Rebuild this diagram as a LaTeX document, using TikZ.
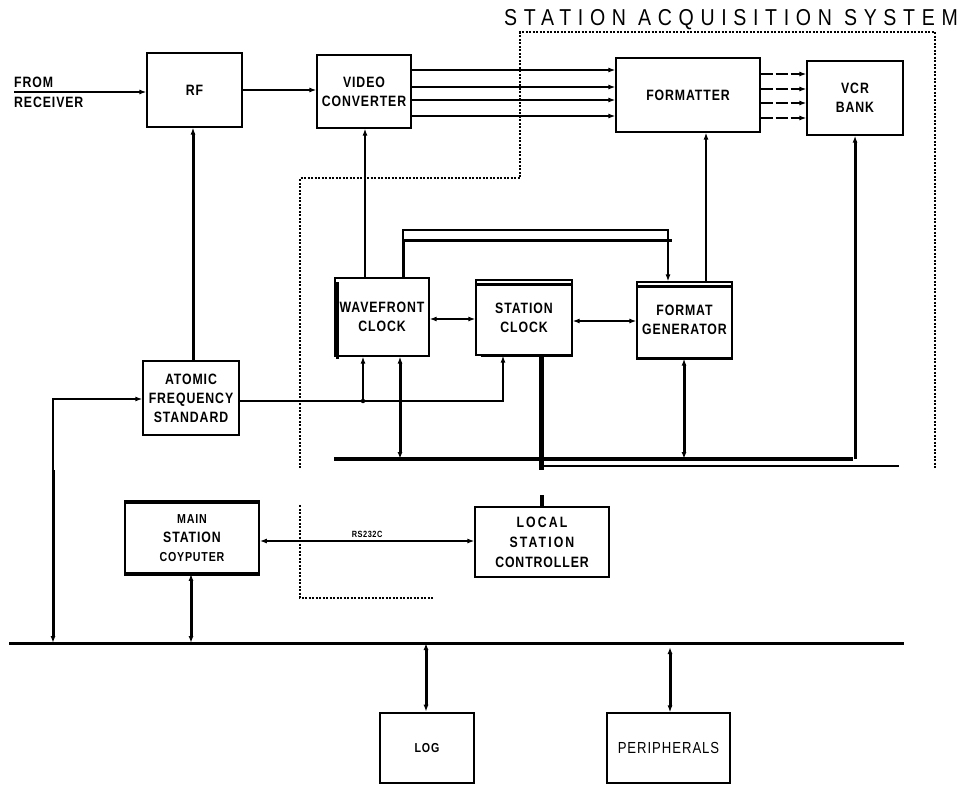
\documentclass[tikz,border=0pt]{standalone}
\usepackage{fontspec}
\setmainfont{Liberation Sans}
\newfontfamily\lbl[FakeStretch=0.82,LetterSpace=6]{Liberation Sans}
\newfontfamily\lblwide[FakeStretch=0.82,LetterSpace=14]{Liberation Sans}
\newfontfamily\ttl[FakeStretch=0.85,LetterSpace=29]{Liberation Sans}
\usetikzlibrary{arrows.meta}
\begin{document}
\begin{tikzpicture}[x=1pt,y=-1pt,
  >={Latex[length=7pt,width=5pt]},
  box/.style={draw,line width=1.3pt,inner sep=0pt,align=center,
    font=\lbl\bfseries\fontsize{15}{19}\selectfont},
  thinln/.style={line width=1.2pt},
  thickln/.style={line width=3pt},
  sasline/.style={line width=1.2pt,dash pattern=on 2pt off 1.5pt},
  lab/.style={inner sep=0pt,font=\lbl\bfseries\fontsize{15}{19}\selectfont}]
\useasboundingbox (0,0) rectangle (968,785);

% title
\node[anchor=west,inner sep=0pt,font=\ttl\fontsize{23}{23}\selectfont] (title) at (504,20) {STATION ACQUISITION SYSTEM};

% boxes
\node[box,minimum width=95pt,minimum height=74pt] (rf) at (194.5,90) {RF};
\node[box,minimum width=94pt,minimum height=73pt] (vc) at (364,91.5) {VIDEO\\CONVERTER};
\node[box,minimum width=144pt,minimum height=74pt] (fmt) at (688,95) {FORMATTER};
\node[box,minimum width=96pt,minimum height=74pt] (vcr) at (855,98) {VCR\\BANK};
\node[box,minimum width=94pt,minimum height=78pt] (wf) at (382,317) {WAVEFRONT\\CLOCK};
\node[box,minimum width=96pt,minimum height=75pt] (sc) at (524,317.5) {STATION\\CLOCK};
\node[box,minimum width=95pt,minimum height=76pt] (fg) at (684.5,320) {FORMAT\\GENERATOR};
\node[box,minimum width=96pt,minimum height=74pt] (afs) at (191,398) {ATOMIC\\FREQUENCY\\STANDARD};
\node[box,line width=1.8pt,minimum width=134pt,minimum height=70pt] (msc) at (192,538)
  {{\fontsize{13}{18}\selectfont MAIN}\\STATION\\{\fontsize{13}{19}\selectfont COYPUTER}};
\node[box,minimum width=134pt,minimum height=70pt,font=\lbl\bfseries\fontsize{15}{20}\selectfont] (lsc) at (542,542)
  {{\lblwide\bfseries LOCAL}\\{\lblwide\bfseries STATION}\\CONTROLLER};
\node[box,line width=2.6pt,minimum width=94pt,minimum height=70pt,font=\lbl\bfseries\fontsize{13}{16}\selectfont] (log) at (427,748) {LOG};
\node[box,minimum width=123pt,minimum height=70pt,font=\lbl\fontsize{16}{18}\selectfont] (per) at (668.5,748) {PERIPHERALS};

% extra box rules
\draw[line width=2.5pt] ([yshift=-5pt]sc.north west) -- ([yshift=-5pt]sc.north east);
\draw[line width=3pt] ([xshift=6pt]sc.south west) -- (sc.south east);
\draw[line width=2.5pt] ([yshift=-5pt]fg.north west) -- ([yshift=-5pt]fg.north east);
\draw[line width=3pt] (fg.south west) -- (fg.south east);
\draw[line width=2.5pt] ([xshift=3pt,yshift=-5pt]wf.north west) -- ([xshift=3pt,yshift=-2pt]wf.south west);
\draw[line width=3.5pt] (msc.north west) -- (msc.north east);
\draw[line width=3.5pt] (msc.south west) -- (msc.south east);

% input
\node[lab,anchor=west] (from) at (14,82) {FROM};
\node[lab,anchor=west] (rcv) at (14,102) {RECEIVER};
\coordinate (inp) at (14,92);
\draw[thinln,->] (inp) -- (rf.west |- inp);

% top row connectors
\draw[thinln,->] (rf.east) -- (vc.west |- rf.east);
\foreach \yy in {70,87,100,116}
  \draw[thinln,->] (vc.east |- 0,\yy) -- (fmt.west |- 0,\yy);
\foreach \yy in {74,89,103,118}
  \draw[thinln,->,dash pattern=on 12pt off 3pt] (fmt.east |- 0,\yy) -- (vcr.west |- 0,\yy);

% vertical connectors
\draw[thickln,->] (afs.north -| 193,0) -- (rf.south -| 193,0);
\draw[thinln,->] (wf.north -| 365,0) -- (vc.south -| 365,0);
\draw[thinln,->] (fg.north -| 706,0) -- (fmt.south -| 706,0);

% station bus
\coordinate (sbL) at (334,459);
\coordinate (sbR) at (853,459);
\coordinate (sb2L) at (541,466);
\coordinate (sb2R) at (899,466);
\draw[line width=3.5pt] (sbL) -- (sbR);
\draw[line width=2pt] (sb2L) -- (sb2R);
\draw[thickln,->] (sbR -| 855,0) -- (vcr.south -| 855,0);

% loop from wavefront clock to format generator
\draw[thinln,->] (wf.north -| 403,0) -- (403,230) -- (668,230) -- (fg.north -| 668,0);
\draw[thickln] (403,240) -- (672,240);
\draw[thickln] (wf.north -| 403,0) -- (403,240);

% clock links
\draw[thinln,<->] (wf.east |- 0,319) -- (sc.west |- 0,319);
\draw[thinln,<->] (sc.east |- 0,321) -- (fg.west |- 0,321);

% frequency distribution
\coordinate (fj) at (363,401);
\draw[line width=1.8pt,->] (afs.east |- fj) -- (503,401) -- (sc.south -| 503,0);
\draw[thinln,->] (fj) -- (wf.south -| fj);
\fill (fj) circle (2.2pt);

% clocks to station bus
\draw[thickln,<->] (sbL -| 400,0) -- (wf.south -| 400,0);
\draw[line width=5pt] (sc.south -| 541,0) -- (541,470);
\draw[line width=4pt] (542,495) -- (lsc.north -| 542,0);
\draw[thickln,<->] (sbL -| 684,0) -- (fg.south -| 684,0);

% main bus
\coordinate (mbL) at (9,643);
\coordinate (mbR) at (904,643);
\draw[line width=3pt] (mbL) -- (mbR);
\coordinate (lk) at (53,399);
\draw[line width=1.8pt,->] (53,470) -- (lk) -- (afs.west |- lk);
\draw[thickln,->] (53,470) -- (mbL -| 53,0);
\draw[thickln,<->] (msc.south -| 191,0) -- (mbL -| 191,0);
\draw[thinln,<->] (msc.east |- 0,541) -- (lsc.west |- 0,541)
  node[midway,above=3pt,inner sep=0pt,font=\lbl\bfseries\fontsize{9}{9}\selectfont] (rs) {RS232C};
\draw[thickln,<->] (mbL -| 426,0) -- (log.north -| 426,0);
\draw[thickln,<->] (670,647) -- (per.north -| 670,0);

% station acquisition system boundary
\draw[sasline] (300,468) -- (300,178) -- (520,178) -- (520,32) -- (935,32) -- (935,468);
\draw[sasline] (300,505) -- (300,598) -- (433,598);
\end{tikzpicture}
\end{document}
